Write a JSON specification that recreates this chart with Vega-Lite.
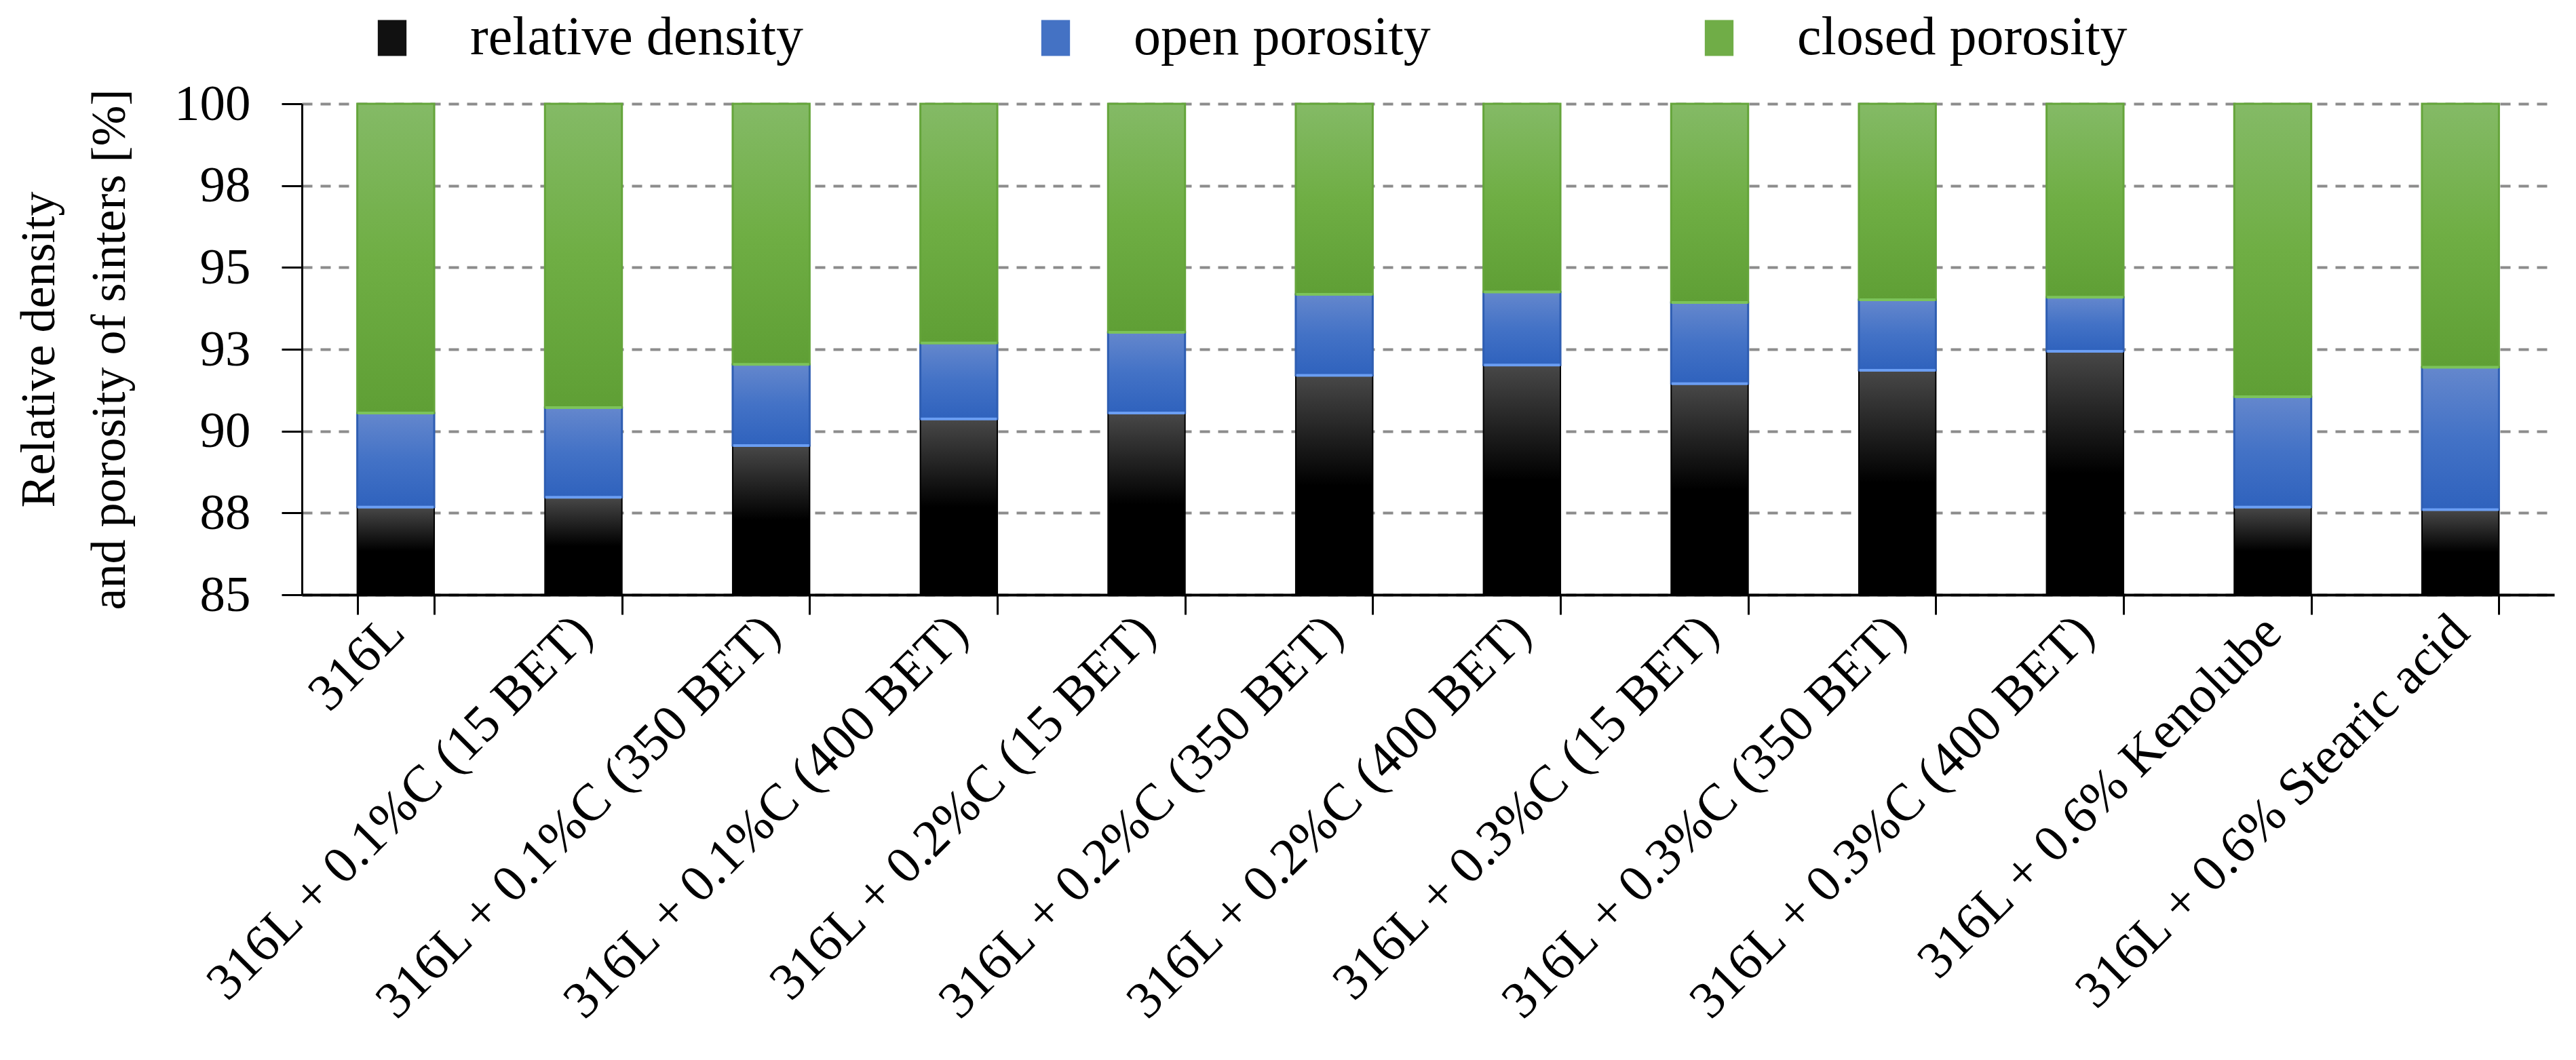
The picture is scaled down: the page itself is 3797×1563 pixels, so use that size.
{
  "$schema": "https://vega.github.io/schema/vega-lite/v6.json",
  "width": 3320,
  "height": 724,
  "autosize": {"type": "none"},
  "padding": {"left": 445, "top": 153, "right": 32, "bottom": 686},
  "background": "white",
  "config": {
    "view": {"stroke": null},
    "font": "Liberation Serif"
  },
  "data": {
    "values": [
      {"sample": "316L", "density": 87.68, "open": 2.87, "closed": 9.45},
      {"sample": "316L + 0.1%C (15 BET)", "density": 87.98, "open": 2.74, "closed": 9.28},
      {"sample": "316L + 0.1%C (350 BET)", "density": 89.56, "open": 2.48, "closed": 7.96},
      {"sample": "316L + 0.1%C (400 BET)", "density": 90.37, "open": 2.32, "closed": 7.31},
      {"sample": "316L + 0.2%C (15 BET)", "density": 90.55, "open": 2.47, "closed": 6.98},
      {"sample": "316L + 0.2%C (350 BET)", "density": 91.70, "open": 2.48, "closed": 5.82},
      {"sample": "316L + 0.2%C (400 BET)", "density": 92.02, "open": 2.23, "closed": 5.75},
      {"sample": "316L + 0.3%C (15 BET)", "density": 91.45, "open": 2.48, "closed": 6.07},
      {"sample": "316L + 0.3%C (350 BET)", "density": 91.86, "open": 2.15, "closed": 5.99},
      {"sample": "316L + 0.3%C (400 BET)", "density": 92.44, "open": 1.65, "closed": 5.91},
      {"sample": "316L + 0.6% Kenolube", "density": 87.68, "open": 3.37, "closed": 8.95},
      {"sample": "316L + 0.6% Stearic acid", "density": 87.60, "open": 4.35, "closed": 8.05}
    ]
  },
  "transform": [
    {"fold": ["density", "open", "closed"], "as": ["component", "value"]},
    {"stack": "value", "groupby": ["sample"], "as": ["v0", "v1"]}
  ],
  "encoding": {
    "x": {
      "field": "sample",
      "type": "nominal",
      "sort": null,
      "scale": {"paddingInner": 0.59, "paddingOuter": 0.295},
      "axis": {
        "title": null,
        "tickBand": "extent",
        "labelAngle": -45,
        "labelAlign": "right",
        "labelBaseline": "middle",
        "labelFont": "Liberation Serif",
        "labelFontSize": 77,
        "labelColor": "black",
        "labelPadding": 14,
        "labelOffset": 0,
        "labelLimit": 2000,
        "tickSize": 29,
        "tickWidth": 3,
        "tickColor": "black",
        "domainColor": "black",
        "domainWidth": 4,
        "grid": false
      }
    },
    "y": {
      "field": "v1",
      "type": "quantitative",
      "scale": {"domain": [85, 100], "nice": false, "zero": false},
      "axis": {
        "title": ["Relative density", "and porosity of sinters [%]"],
        "titleFont": "Liberation Serif",
        "titleFontSize": 72,
        "titleFontWeight": "normal",
        "titleColor": "black",
        "titleLineHeight": 104,
        "titlePadding": 58,
        "values": [85, 87.5, 90, 92.5, 95, 97.5, 100],
        "format": ".0f",
        "labelFont": "Liberation Serif",
        "labelFontSize": 75,
        "labelColor": "black",
        "labelPadding": 46,
        "tickSize": 30,
        "tickWidth": 3,
        "tickColor": "black",
        "domainColor": "black",
        "domainWidth": 3,
        "grid": true,
        "gridColor": "#8c8c8c",
        "gridWidth": 4,
        "gridDash": [15, 12]
      }
    }
  },
  "layer": [
    {
      "transform": [{"filter": "datum.component === 'density'"}],
      "mark": {
        "type": "bar",
        "fill": {
          "gradient": "linear", "x1": 0, "y1": 0, "x2": 0, "y2": 1,
          "stops": [
            {"offset": 0, "color": "#484848"},
            {"offset": 0.5, "color": "#000000"},
            {"offset": 1, "color": "#000000"}
          ]
        },
        "stroke": "#000000",
        "strokeWidth": 2
      },
      "encoding": {"y2": {"datum": 85}}
    },
    {
      "transform": [{"filter": "datum.component === 'open'"}],
      "mark": {
        "type": "bar",
        "fill": {
          "gradient": "linear", "x1": 0, "y1": 0, "x2": 0, "y2": 1,
          "stops": [
            {"offset": 0, "color": "#6487cd"},
            {"offset": 0.5, "color": "#4372c6"},
            {"offset": 1, "color": "#2f62bd"}
          ]
        },
        "stroke": "#2f5eb2",
        "strokeWidth": 3
      },
      "encoding": {"y2": {"field": "v0"}}
    },
    {
      "transform": [{"filter": "datum.component === 'closed'"}],
      "mark": {
        "type": "bar",
        "fill": {
          "gradient": "linear", "x1": 0, "y1": 0, "x2": 0, "y2": 1,
          "stops": [
            {"offset": 0, "color": "#84ba66"},
            {"offset": 0.5, "color": "#6fae44"},
            {"offset": 1, "color": "#5f9f35"}
          ]
        },
        "stroke": "#65a53b",
        "strokeWidth": 3
      },
      "encoding": {"y2": {"field": "v0"}}
    },
    {
      "transform": [{"filter": "datum.component === 'open'"}],
      "mark": {"type": "tick", "color": "#6b9ef3", "thickness": 4, "size": 112, "opacity": 1},
      "encoding": {"y": {"field": "v0", "type": "quantitative"}}
    },
    {
      "transform": [{"filter": "datum.component === 'closed'"}],
      "mark": {"type": "tick", "color": "#7cc35a", "thickness": 4, "size": 112, "opacity": 1},
      "encoding": {"y": {"field": "v0", "type": "quantitative"}}
    },
    {
      "mark": {"type": "bar", "opacity": 0, "clip": true},
      "encoding": {
        "color": {
          "field": "component",
          "type": "nominal",
          "scale": {"domain": ["density", "open", "closed"], "range": ["#111111", "#4472c4", "#70ad47"]},
          "legend": {
            "title": null,
            "orient": "none",
            "legendX": 93,
            "legendY": -137,
            "direction": "horizontal",
            "columns": 3,
            "gridAlign": "all",
            "columnPadding": 332,
            "symbolType": "M-0.8,-1H0.8V1H-0.8Z",
            "symbolSize": 2800,
            "symbolOpacity": 1,
            "symbolStrokeWidth": 0,
            "labelFont": "Liberation Serif",
            "labelFontSize": 80,
            "labelColor": "black",
            "labelOffset": 75,
            "labelLimit": 2000,
            "labelExpr": "datum.label === 'density' ? 'relative density' : datum.label === 'open' ? 'open porosity' : 'closed porosity'"
          }
        }
      }
    }
  ]
}
